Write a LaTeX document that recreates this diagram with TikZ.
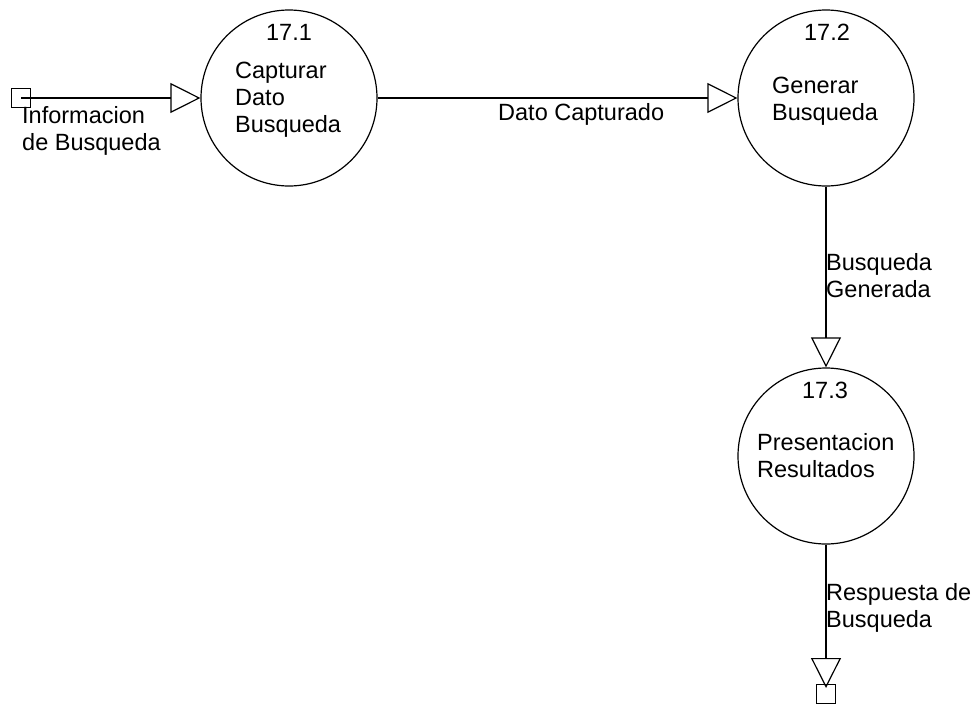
\documentclass[tikz,border=0pt]{standalone}
\usepackage{fontspec}
\setmainfont{Liberation Sans}
\usetikzlibrary{arrows.meta}
\begin{document}
\begin{tikzpicture}[x=1pt,y=-1pt,
  every node/.style={font=\fontsize{23.5}{27}\selectfont, inner sep=0pt},
  process/.style={draw, circle, line width=1.2pt, minimum size=176pt},
  terminal/.style={draw, rectangle, line width=1.2pt, minimum size=19pt},
  flow/.style={line width=1.2pt, -{Triangle[open, length=30pt, width=30pt, line width=1.2pt]}},
  num/.style={anchor=base},
  % multi-line labels are placed by the baseline of their last line
  lbl/.style={align=left, anchor=base west}]
\useasboundingbox (0,0) rectangle (979,704);

% processes
\node[process] (c1) at (289,98) {};
\node[process] (c2) at (826,98) {};
\node[process] (c3) at (826,456) {};

% external ends
\node[terminal] (src) at (21,98) {};
\node[terminal] (dst) at (826,694) {};
\coordinate (dstTip) at (826,688);

% process labels
\node[num] (n1) at (289,40) {17.1};
\node[lbl] (t1) at (235,132) {Capturar\\Dato\\Busqueda};
\node[num] (n2) at (827,40) {17.2};
\node[lbl] (t2) at (772,120) {Generar\\Busqueda};
\node[num] (n3) at (825,398) {17.3};
\node[lbl] (t3) at (757,477) {Presentacion\\Resultados};

% flows
\draw[flow] (src.center) -- (c1);
\draw[flow] (c1) -- (c2);
\draw[flow] (c2) -- (c3);
\draw[flow] (c3) -- (dstTip);

% flow labels
\node[lbl] (f1) at (22,150) {Informacion\\de Busqueda};
\node[lbl] (f2) at (498,120) {Dato Capturado};
\node[lbl] (f3) at (826,297) {Busqueda\\Generada};
\node[lbl] (f4) at (826,627) {Respuesta de\\Busqueda};
\end{tikzpicture}
\end{document}
